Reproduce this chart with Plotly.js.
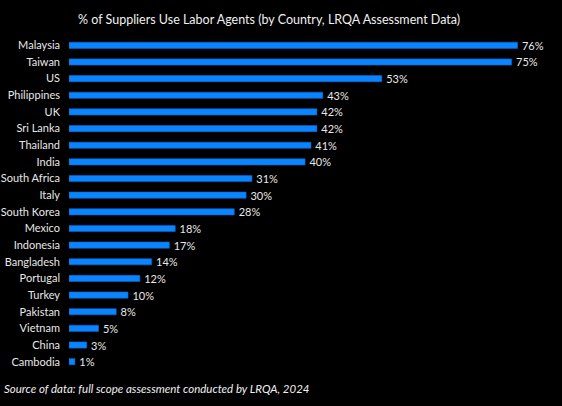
<!DOCTYPE html>
<html>
<head>
<meta charset="utf-8">
<script src="https://cdn.plot.ly/plotly-3.0.1.min.js"></script>
<style>
html, body { margin: 0; padding: 0; background: #000; }
#myDiv { width: 562px; height: 406px; }
</style>
</head>
<body>
<div id="myDiv"></div>
<script>
const countries = ['Malaysia', 'Taiwan', 'US', 'Philippines', 'UK', 'Sri Lanka', 'Thailand', 'India',
  'South Africa', 'Italy', 'South Korea', 'Mexico', 'Indonesia', 'Bangladesh', 'Portugal', 'Turkey',
  'Pakistan', 'Vietnam', 'China', 'Cambodia']
const pctAgents = [76, 75, 53, 43, 42, 42, 41, 40, 31, 30, 28, 18, 17, 14, 12, 10, 8, 5, 3, 1]
const titleText = '% of Suppliers Use Labor Agents (by Country, LRQA Assessment Data)'
const sourceText = 'Source of data: full scope assessment conducted by LRQA, 2024'

const graphDiv = document.getElementById('myDiv')
const font = 'Lato, "Open Sans", sans-serif'

const bars = {
    type: 'bar',
    orientation: 'h',
    x: pctAgents,
    y: countries,
    marker: {color: '#0a84ff', line: {color: '#0668cc', width: 0.6}},
    texttemplate: '\u2009%{x}%',
    textposition: 'outside',
    constraintext: 'none',
    textfont: {color: '#e8e8e8', size: 11, family: font},
    cliponaxis: false,
    hoverinfo: 'none',
}

const layout = {
    width: 562,
    height: 406,
    paper_bgcolor: '#000',
    plot_bgcolor: '#000',
    showlegend: false,
    bargap: 0.63,
    margin: {l: 69, r: 12, t: 37, b: 36, pad: 0},
    font: {family: font, color: '#e8e8e8', size: 11},
    title: {
        text: titleText,
        font: {family: font, size: 12.5, color: '#f0f0f0'},
        xref: 'container',
        x: 78 / 562,
        xanchor: 'left',
        y: 1 - 20 / 406,
        yanchor: 'middle',
    },
    xaxis: {
        range: [0, 81.5],
        visible: false,
        showgrid: false,
        zeroline: false,
    },
    yaxis: {
        type: 'category',
        categoryorder: 'array',
        categoryarray: countries,
        autorange: 'reversed',
        showgrid: false,
        zeroline: false,
        showline: false,
        ticks: '',
        ticklabelstandoff: 8,
        tickfont: {family: font, size: 11, color: '#e8e8e8'},
    },
    annotations: [{
        text: '<i>' + sourceText + '</i>',
        xref: 'paper', yref: 'paper',
        x: -67 / 481, y: -19 / 334,
        xanchor: 'left', yanchor: 'middle',
        showarrow: false,
        font: {family: font, size: 11.5, color: '#f0f0f0'},
    }],
}

Plotly.newPlot(graphDiv, [bars], layout, {displayModeBar: false, staticPlot: true})
</script>
</body>
</html>
